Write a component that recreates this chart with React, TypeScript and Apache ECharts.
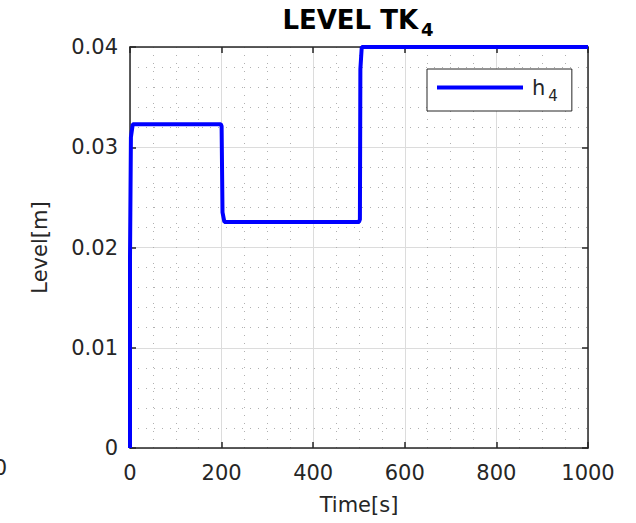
import React, { useEffect, useRef } from "react";
import * as echarts from "echarts";

const timeS = [0, 0, 2, 6, 198, 200, 202, 206, 500, 502, 503, 506, 1000];
const levelM = [0, 0.019, 0.031, 0.0323, 0.0323, 0.0321, 0.0235, 0.02255, 0.02255, 0.0228, 0.0378, 0.04, 0.04];
const xTicks = { min: 0, max: 1000, interval: 200 };
const yTicks = { min: 0, max: 0.04, interval: 0.01 };
const seriesName = "h4";

const FONT = "DejaVu Sans";

export default function App() {
  const ref = useRef<HTMLDivElement>(null);
  useEffect(() => {
    if (!ref.current) return;
    const chart = echarts.init(ref.current, undefined, { renderer: "svg" });
    const data = timeS.map((t, i) => [t, levelM[i]]);
    const axisLineStyle = { color: "#262626", width: 1.5 };
    const baseX = {
      type: "value" as const,
      min: xTicks.min,
      max: xTicks.max,
      interval: xTicks.interval,
    };
    const baseY = {
      type: "value" as const,
      min: yTicks.min,
      max: yTicks.max,
      interval: yTicks.interval,
    };
    chart.setOption({
      animation: false,
      backgroundColor: "#ffffff",
      grid: { left: 130, top: 47, width: 458, height: 401, show: false },
      xAxis: [
        {
          ...baseX,
          position: "bottom",
          name: "Time[s]",
          nameLocation: "middle",
          nameGap: 46,
          nameTextStyle: { fontFamily: FONT, fontSize: 21, color: "#262626" },
          axisLine: { show: true, lineStyle: axisLineStyle },
          axisTick: { show: true, inside: true, length: 6, lineStyle: axisLineStyle },
          axisLabel: {
            fontFamily: FONT,
            fontSize: 21,
            color: "#262626",
            margin: 14,
            formatter: (v: number) => String(v),
          },
          splitLine: { show: true, lineStyle: { color: "#dcdcdc", width: 1 } },
          minorTick: { show: false, splitNumber: 4 },
          minorSplitLine: { show: true, lineStyle: { color: "#b0b0b0", width: 1, type: [1, 7] } },
        },
        {
          ...baseX,
          position: "top",
          axisLine: { show: true, onZero: false, lineStyle: axisLineStyle },
          axisTick: { show: true, inside: true, length: 6, lineStyle: axisLineStyle },
          axisLabel: { show: false },
          splitLine: { show: false },
        },
      ],
      yAxis: [
        {
          ...baseY,
          position: "left",
          name: "Level[m]",
          nameLocation: "middle",
          nameGap: 80,
          nameTextStyle: { fontFamily: FONT, fontSize: 21, color: "#262626" },
          axisLine: { show: true, onZero: false, lineStyle: axisLineStyle },
          axisTick: { show: true, inside: true, length: 6, lineStyle: axisLineStyle },
          axisLabel: { fontFamily: FONT, fontSize: 21, color: "#262626", margin: 12 },
          splitLine: { show: true, lineStyle: { color: "#dcdcdc", width: 1 } },
          minorTick: { show: false, splitNumber: 5 },
          minorSplitLine: { show: true, lineStyle: { color: "#b0b0b0", width: 1, type: [1, 7] } },
        },
        {
          ...baseY,
          position: "right",
          axisLine: { show: true, onZero: false, lineStyle: axisLineStyle },
          axisTick: { show: true, inside: true, length: 6, lineStyle: axisLineStyle },
          axisLabel: { show: false },
          splitLine: { show: false },
        },
      ],
      legend: {
        show: true,
        data: [seriesName],
        left: 427,
        top: 69,
        padding: [8, 14, 8, 10],
        backgroundColor: "#ffffff",
        borderColor: "#262626",
        borderWidth: 1,
        borderRadius: 0,
        icon: "rect",
        itemWidth: 86,
        itemHeight: 4,
        itemGap: 0,
        formatter: () => "{a|h}{b|4}",
        textStyle: {
          fontFamily: FONT,
          color: "#262626",
          rich: {
            a: { fontFamily: FONT, fontSize: 21, color: "#262626", padding: [0, 0, 0, 4] },
            b: { fontFamily: FONT, fontSize: 15, color: "#262626", padding: [16, 0, 0, 3] },
          },
        },
      },
      series: [
        {
          name: seriesName,
          type: "line",
          xAxisIndex: 0,
          yAxisIndex: 0,
          data,
          showSymbol: false,
          symbol: "none",
          lineStyle: { color: "#0000ff", width: 4 },
          itemStyle: { color: "#0000ff" },
          clip: true,
          z: 5,
        },
      ],
      graphic: [
        {
          type: "text",
          x: 358,
          y: 2,
          style: {
            text: "{a|LEVEL TK}{b|4}",
            align: "center",
            textAlign: "center",
            fill: "#000000",
            rich: {
              a: { fontFamily: FONT, fontSize: 26, fontWeight: "bold", fill: "#000000", color: "#000000" },
              b: { fontFamily: FONT, fontSize: 18, fontWeight: "bold", fill: "#000000", color: "#000000", padding: [18, 0, 0, 3] },
            },
          },
        },
        {
          type: "text",
          x: 7,
          y: 468,
          style: {
            text: "0",
            align: "right",
            textAlign: "right",
            verticalAlign: "middle",
            textVerticalAlign: "middle",
            font: `21px "${FONT}"`,
            fill: "#262626",
          },
        },
      ],
    });
    return () => chart.dispose();
  }, []);
  return (
    <div
      ref={ref}
      style={{ position: "fixed", left: 0, top: 0, width: 636, height: 523 }}
    />
  );
}
